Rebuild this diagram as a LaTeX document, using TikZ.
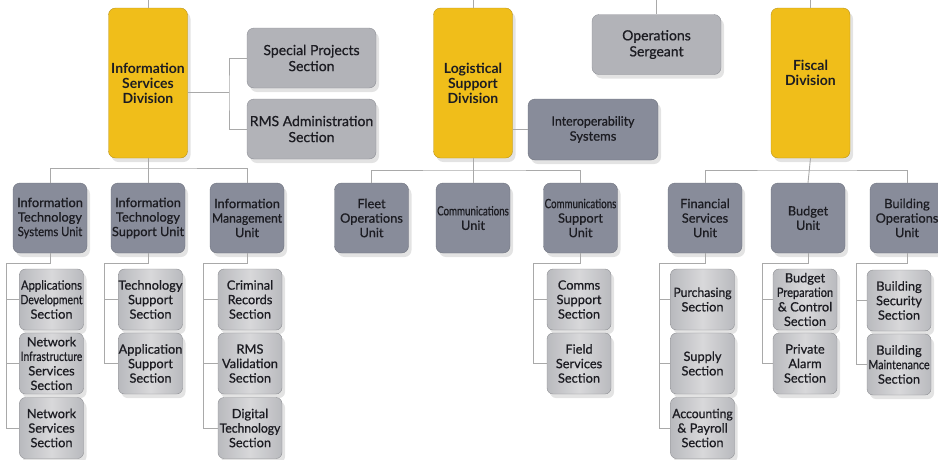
\documentclass[tikz,border=0pt]{standalone}
\usepackage{fontspec}
\setmainfont{Lato}[UprightFeatures={FakeBold=0.7}]
\usetikzlibrary{shadows}

\definecolor{divyellow}{HTML}{F0BE1A}
\definecolor{divedge}{HTML}{B8921A}
\definecolor{topgray}{HTML}{B2B3B8}
\definecolor{topedge}{HTML}{8E9096}
\definecolor{unitgray}{HTML}{888C9A}
\definecolor{unitedge}{HTML}{70747F}
\definecolor{secmid}{HTML}{D8D8DA}
\definecolor{secside}{HTML}{B9BABE}
\definecolor{secedge}{HTML}{8E8F93}
\definecolor{linkgray}{HTML}{A9A9A9}
\definecolor{ink}{HTML}{1C1C22}

\newcommand{\squeezed}[2][0.85]{\scalebox{#1}[1]{#2}}

\tikzset{
  orgbox/.style={rounded corners=7, align=center, inner sep=0, text=ink,
    drop shadow={opacity=0.22, shadow xshift=3pt, shadow yshift=-4pt}},
  divbox/.style={orgbox, draw=divedge, fill=divyellow, minimum width=79, minimum height=150,
    font=\fontsize{14}{15}\selectfont\bfseries},
  headbox/.style={orgbox, draw=topedge, fill=topgray, minimum width=129, minimum height=60,
    font=\fontsize{14}{16}\selectfont},
  unitbox/.style={orgbox, draw=unitedge, fill=unitgray, minimum width=74, minimum height=70,
    font=\fontsize{12.8}{14.5}\selectfont},
  secbox/.style={orgbox, draw=secedge, left color=secside, right color=secside, middle color=secmid,
    minimum width=64, minimum height=61, rounded corners=6, font=\fontsize{12.8}{14.5}\selectfont},
  orgline/.style={draw=linkgray, line width=0.9pt},
}

\begin{document}
\begin{tikzpicture}[x=1pt, y=-1pt]
  \useasboundingbox (0,0) rectangle (938,459);

  % divisions and staff boxes
  \node[divbox] (isd) at (148,83) {Information\\Services\\Division};
  \node[divbox] (lsd) at (473,83) {Logistical\\Support\\Division};
  \node[divbox, label={[font=\fontsize{14}{15}\selectfont\bfseries, align=center, text=ink, yshift=10]center:Fiscal\\Division}] (fiscal) at (810.5,83) {};
  \node[headbox] (opsgt) at (656.5,44.5) {Operations\\Sergeant};
  \node[headbox] (spec) at (311.5,58) {Special Projects\\Section};
  \node[headbox] (rmsadm) at (311.5,129) {RMS Administration\\Section};
  \node[unitbox, minimum width=130, minimum height=61, font=\fontsize{13}{15}\selectfont] (interop) at (593,129.5) {\squeezed[0.95]{Interoperability}\\Systems};

  % units
  \node[unitbox] (itsys) at (50,218) {Information\\Technology\\\squeezed[0.88]{Systems Unit}};
  \node[unitbox] (itsup) at (148,218) {Information\\Technology\\Support Unit};
  \node[unitbox] (infm) at (247,218) {Information\\\squeezed[0.95]{Management}\\Unit};
  \node[unitbox] (fleet) at (371.5,218) {Fleet\\Operations\\Unit};
  \node[unitbox] (comms) at (473,218) {\squeezed[0.76]{Communications}\\Unit};
  \node[unitbox] (commsup) at (580.5,218) {\squeezed[0.76]{Communications}\\Support\\Unit};
  \node[unitbox] (finsvc) at (705,218) {Financial\\Services\\Unit};
  \node[unitbox] (budget) at (808,218) {Budget\\Unit};
  \node[unitbox] (bldops) at (907,218) {Building\\Operations\\Unit};

  % sections
  \node[secbox] (appdev) at (51.5,299.5) {\squeezed[0.88]{Applications}\\\squeezed[0.82]{Development}\\Section};
  \node[secbox] (nwinf) at (51.5,363.5) {Network\\\squeezed[0.8]{Infrastructure}\\Services\\Section};
  \node[secbox] (nwsvc) at (51.5,428) {Network\\Services\\Section};
  \node[secbox] (techsup) at (150.5,299.5) {Technology\\Support\\Section};
  \node[secbox] (appsup) at (150.5,363.5) {Application\\Support\\Section};
  \node[secbox] (crimrec) at (250,299.5) {Criminal\\Records\\Section};
  \node[secbox] (rmsval) at (250,363.5) {RMS\\Validation\\Section};
  \node[secbox] (digtech) at (250,428) {Digital\\\squeezed[0.95]{Technology}\\Section};
  \node[secbox] (commsec) at (579,299.5) {Comms\\Support\\Section};
  \node[secbox] (fieldsvc) at (579,363.5) {Field\\Services\\Section};
  \node[secbox] (purch) at (702.5,299.5) {\squeezed[0.95]{Purchasing}\\Section};
  \node[secbox] (supply) at (702.5,363.5) {Supply\\Section};
  \node[secbox] (acctpay) at (702.5,428) {\squeezed[0.95]{Accounting}\\\& Payroll\\Section};
  \node[secbox] (budprep) at (805,299.5) {Budget\\\squeezed[0.86]{Preparation}\\\& Control\\Section};
  \node[secbox] (privalarm) at (805,363.5) {Private\\Alarm\\Section};
  \node[secbox] (bldsec) at (899,300.5) {Building\\Security\\Section};
  \node[secbox] (bldmnt) at (899,364.5) {Building\\\squeezed[0.84]{Maintenance}\\Section};

  % lines from above
  \draw[orgline] (isd.north) -- ++(0,-8);
  \draw[orgline] (lsd.north) -- ++(0,-8);
  \draw[orgline] (fiscal.north) -- ++(0,-8);
  \draw[orgline] (opsgt.north) -- ++(0,-15);

  % staff links
  \coordinate (isdside) at (229,92);
  \draw[orgline] (isd.east |- isdside) -- (isdside);
  \draw[orgline] (spec.west) -| (isdside) |- (rmsadm.west);
  \draw[orgline] (lsd.east |- interop.west) -- (interop.west);

  % unit buses
  \coordinate (isdbus) at (148,168);
  \coordinate (lsdbus) at (473,170);
  \coordinate (fiscalbus) at (808,170);
  \draw[orgline] (isd.south) -- (itsup.north);
  \draw[orgline] (itsys.north) |- (isdbus) -| (infm.north);
  \draw[orgline] (lsd.south) -- (comms.north);
  \draw[orgline] (fleet.north) |- (lsdbus) -| (commsup.north);
  \draw[orgline] (fiscal.south) -- (budget.north);
  \draw[orgline] (finsvc.north) |- (fiscalbus) -| (bldops.north);

  % section rails
  \draw[orgline] (itsys.south) -- ++(0,10) -| ([xshift=-13pt]nwsvc.west) -- (nwsvc.west);
  \foreach \s in {appdev,nwinf} \draw[orgline] (\s.west) -- ++(-13,0);
  \draw[orgline] (itsup.south) -- ++(0,10) -| ([xshift=-14pt]appsup.west) -- (appsup.west);
  \draw[orgline] (techsup.west) -- ++(-14,0);
  \draw[orgline] (infm.south) -- ++(0,10) -| ([xshift=-14pt]digtech.west) -- (digtech.west);
  \foreach \s in {crimrec,rmsval} \draw[orgline] (\s.west) -- ++(-14,0);
  \draw[orgline] (commsup.south) -- ++(0,10) -| ([xshift=-13pt]fieldsvc.west) -- (fieldsvc.west);
  \draw[orgline] (commsec.west) -- ++(-13,0);
  \draw[orgline] (finsvc.south) -- ++(0,10) -| ([xshift=-11pt]acctpay.west) -- (acctpay.west);
  \foreach \s in {purch,supply} \draw[orgline] (\s.west) -- ++(-11,0);
  \draw[orgline] (budget.south) -- ++(0,10) -| ([xshift=-10pt]privalarm.west) -- (privalarm.west);
  \draw[orgline] (budprep.west) -- ++(-10,0);
  \draw[orgline] (bldops.south) -- ++(0,10) -| ([xshift=-10pt]bldmnt.west) -- (bldmnt.west);
  \draw[orgline] (bldsec.west) -- ++(-10,0);
\end{tikzpicture}
\end{document}
